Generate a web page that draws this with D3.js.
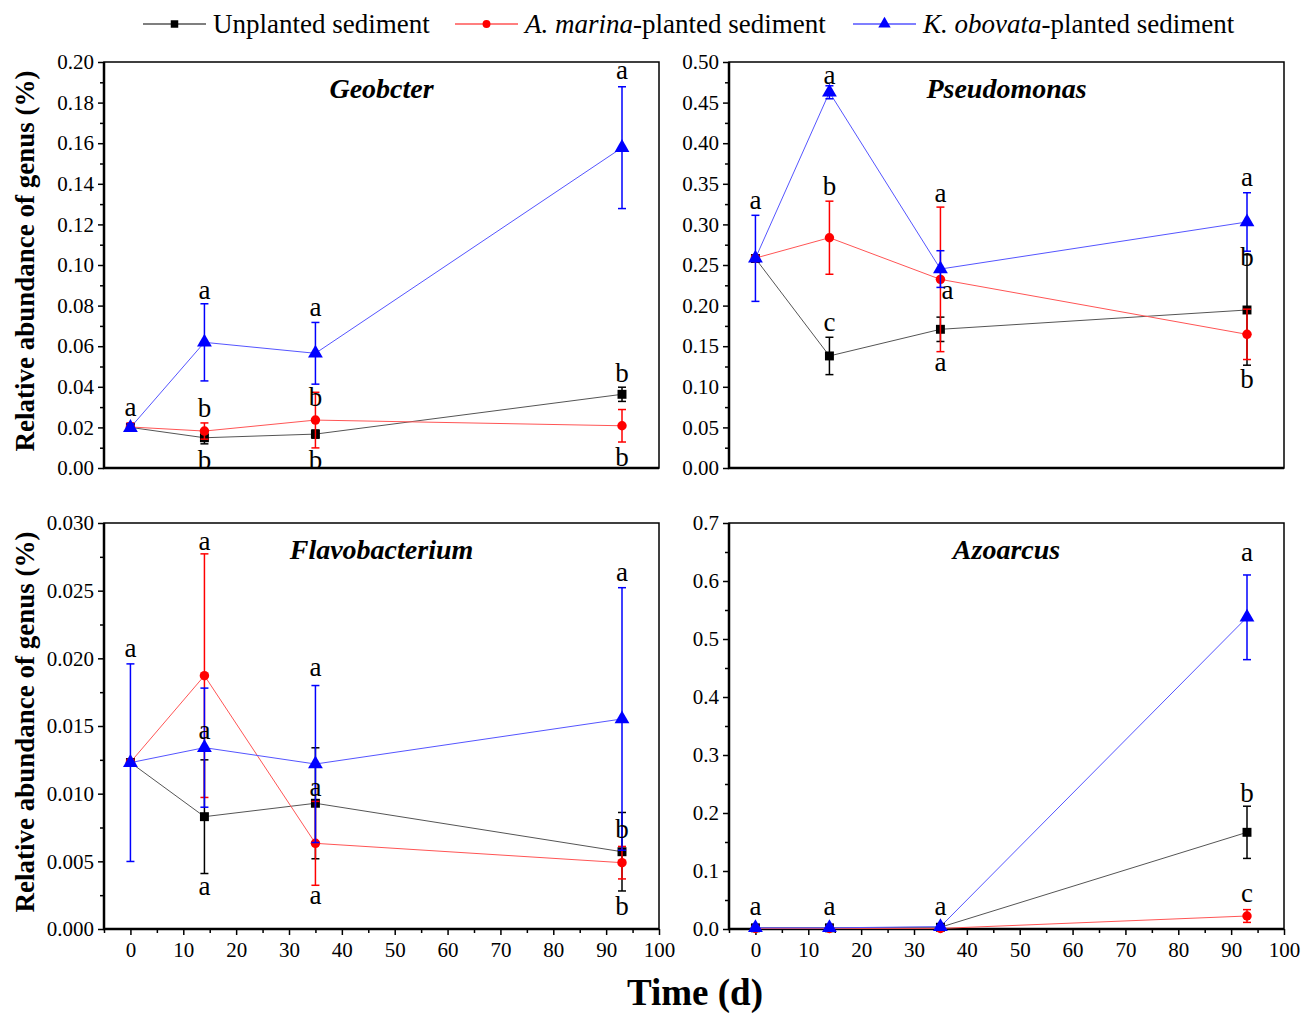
<!DOCTYPE html>
<html>
<head>
<meta charset="utf-8">
<script src="https://cdn.jsdelivr.net/npm/d3@7"></script>
<style>
  body { margin: 0; background: #fff; }
  text { font-family: "Liberation Serif", "Times New Roman", serif; fill: #000; }
</style>
</head>
<body>
<svg id="chart"></svg>
<script>
// sampling days
const days = [0, 14, 35, 93];

const seriesNames = ['Unplanted sediment', 'A. marina-planted sediment', 'K. obovata-planted sediment'];
const markColors = ['#000000', '#ff0000', '#0000ff'];
const lineColors = ['#555555', '#ff5555', '#5555ff'];

// rows: unplanted, A. marina, K. obovata
const geobcterMeans = [
  [0.0200, 0.0149, 0.0167, 0.0363],
  [0.0202, 0.0182, 0.0236, 0.0208],
  [0.0199, 0.0619, 0.0565, 0.1578]
];
const geobcterErrors = [
  [0.0015, 0.0030, 0.0020, 0.0035],
  [0.0020, 0.0040, 0.0137, 0.0080],
  [0.0018, 0.0190, 0.0152, 0.0300]
];
// [day index, letter, y value, x shift]
const geobcterLetters = [
  [0, 'a', 0.0286], [1, 'a', 0.0864], [1, 'b', 0.0296], [1, 'b', 0.0039],
  [2, 'a', 0.0779], [2, 'b', 0.0352], [2, 'b', 0.0039],
  [3, 'a', 0.1946], [3, 'b', 0.0468], [3, 'b', 0.0056]
];

const pseudoMeans = [
  [0.2580, 0.1380, 0.1708, 0.1946],
  [0.2585, 0.2836, 0.2323, 0.1646],
  [0.2582, 0.4627, 0.2450, 0.3030]
];
const pseudoErrors = [
  [0.0030, 0.0230, 0.0150, 0.0680],
  [0.0030, 0.0450, 0.0890, 0.0310],
  [0.0530, 0.0080, 0.0226, 0.0360]
];
const pseudoLetters = [
  [0, 'a', 0.326], [1, 'a', 0.481], [1, 'b', 0.347], [1, 'c', 0.176],
  [2, 'a', 0.335], [2, 'a', 0.216, 7], [2, 'a', 0.127],
  [3, 'a', 0.355], [3, 'b', 0.260], [3, 'b', 0.110]
];

const flavoMeans = [
  [0.01230, 0.00830, 0.00929, 0.00571],
  [0.01232, 0.01872, 0.00633, 0.00490],
  [0.01229, 0.01340, 0.01219, 0.01552]
];
const flavoErrors = [
  [0.0002, 0.0042, 0.0041, 0.0029],
  [0.0002, 0.0090, 0.0031, 0.0012],
  [0.0073, 0.0044, 0.0058, 0.0097]
];
const flavoLetters = [
  [0, 'a', 0.02056], [1, 'a', 0.02843], [1, 'a', 0.0145], [1, 'a', 0.0030],
  [2, 'a', 0.01914], [2, 'a', 0.01027], [2, 'a', 0.00227],
  [3, 'a', 0.02618], [3, 'b', 0.00739], [3, 'b', 0.0017]
];

const azoMeans = [
  [0.002, 0.002, 0.003, 0.1667],
  [0.001, 0.001, 0.001, 0.0224],
  [0.002, 0.002, 0.004, 0.5374]
];
const azoErrors = [
  [0.001, 0.001, 0.001, 0.045],
  [0.001, 0.001, 0.001, 0.011],
  [0.001, 0.001, 0.002, 0.073]
];
const azoLetters = [
  [0, 'a', 0.034], [1, 'a', 0.034], [2, 'a', 0.034],
  [3, 'a', 0.6453], [3, 'b', 0.234], [3, 'c', 0.057]
];

const xTicks = d3.range(0, 101, 10);

const panels = [
  { title: 'Geobcter', means: geobcterMeans, errors: geobcterErrors, letters: geobcterLetters,
    yMax: 0.20, yStep: 0.02, fmt: '.2f', left: 104, top: 62, xAxis: false, yLabel: true },
  { title: 'Pseudomonas', means: pseudoMeans, errors: pseudoErrors, letters: pseudoLetters,
    yMax: 0.50, yStep: 0.05, fmt: '.2f', left: 729, top: 62, xAxis: false, yLabel: false },
  { title: 'Flavobacterium', means: flavoMeans, errors: flavoErrors, letters: flavoLetters,
    yMax: 0.030, yStep: 0.005, fmt: '.3f', left: 104, top: 523, xAxis: true, yLabel: true },
  { title: 'Azoarcus', means: azoMeans, errors: azoErrors, letters: azoLetters,
    yMax: 0.7, yStep: 0.1, fmt: '.1f', left: 729, top: 523, xAxis: true, yLabel: false }
];

const width = 1301;
const height = 1013;
const pw = 555;
const ph = 406;

const svg = d3.select('#chart')
  .attr('width', width)
  .attr('height', height);

const symbols = [d3.symbolSquare, d3.symbolCircle, d3.symbolTriangle];
const symbolSizes = [80, 70, 95];

panels.forEach(p => {
  const g = svg.append('g')
    .attr('transform', 'translate(' + p.left + ',' + p.top + ')');

  const x = d3.scaleLinear().domain([-5, 100]).range([0, pw]);
  const y = d3.scaleLinear().domain([0, p.yMax]).range([ph, 0]);

  // y axis: major + minor ticks
  const yMajor = d3.range(0, p.yMax + p.yStep / 2, p.yStep);
  const yMinor = d3.range(p.yStep / 2, p.yMax, p.yStep);
  g.append('g')
    .call(d3.axisLeft(y).tickValues(yMinor).tickSize(4).tickFormat(''))
    .call(a => a.select('.domain').remove())
    .selectAll('line').attr('stroke-width', 1.5);
  const ya = g.append('g')
    .call(d3.axisLeft(y).tickValues(yMajor).tickSize(6).tickPadding(4).tickFormat(d3.format(p.fmt)));
  ya.select('.domain').remove();
  ya.selectAll('line').attr('stroke-width', 1.5);
  ya.selectAll('text')
    .style('font-size', '21px')
    .style('font-family', '"Liberation Serif", serif');

  if (p.xAxis) {
    const xMinor = d3.range(-5, 101, 10);
    g.append('g')
      .attr('transform', 'translate(0,' + ph + ')')
      .call(d3.axisBottom(x).tickValues(xMinor).tickSize(4).tickFormat(''))
      .call(a => a.select('.domain').remove())
      .selectAll('line').attr('stroke-width', 1.5);
    const xa = g.append('g')
      .attr('transform', 'translate(0,' + ph + ')')
      .call(d3.axisBottom(x).tickValues(xTicks).tickSize(6).tickPadding(7));
    xa.select('.domain').remove();
    xa.selectAll('line').attr('stroke-width', 1.5);
    xa.selectAll('text')
      .style('font-size', '21px')
      .style('font-family', '"Liberation Serif", serif');
  }

  // frame
  g.append('rect')
    .attr('width', pw).attr('height', ph)
    .attr('fill', 'none').attr('stroke', '#000').attr('stroke-width', 1.5);
  g.append('path')
    .attr('d', 'M0,0V' + ph + 'H' + pw)
    .attr('fill', 'none').attr('stroke', '#000').attr('stroke-width', 2.5);

  // lines
  const line = d3.line().x((d, i) => x(days[i])).y(d => y(d));
  p.means.forEach((m, s) => {
    g.append('path')
      .datum(m)
      .attr('d', line)
      .attr('fill', 'none')
      .attr('stroke', lineColors[s])
      .attr('stroke-width', 1);
  });

  // error bars + markers
  p.means.forEach((m, s) => {
    const eb = g.append('g');
    m.forEach((v, i) => {
      const e = p.errors[s][i];
      const cx = x(days[i]);
      const y0 = y(v + e), y1 = y(v - e);
      eb.append('line')
        .attr('x1', cx).attr('x2', cx).attr('y1', y0).attr('y2', y1)
        .attr('stroke', markColors[s]).attr('stroke-width', 1.5);
      [y0, y1].forEach(yy => {
        eb.append('line')
          .attr('x1', cx - 4).attr('x2', cx + 4).attr('y1', yy).attr('y2', yy)
          .attr('stroke', markColors[s]).attr('stroke-width', 1.5);
      });
    });
    g.append('g').selectAll('path')
      .data(m)
      .enter().append('path')
      .attr('transform', (d, i) => 'translate(' + x(days[i]) + ',' + y(d) + ')')
      .attr('d', d3.symbol().type(symbols[s]).size(symbolSizes[s]))
      .attr('fill', markColors[s]);
  });

  // significance letters
  g.selectAll('.letter')
    .data(p.letters)
    .enter().append('text')
    .attr('class', 'letter')
    .attr('x', d => x(days[d[0]]) + (d[3] || 0))
    .attr('y', d => y(d[2]))
    .attr('dy', d => d[1] === 'b' ? '0.34em' : '0.23em')
    .attr('text-anchor', 'middle')
    .style('font-size', '27px')
    .text(d => d[1]);

  // title
  g.append('text')
    .attr('x', pw / 2)
    .attr('y', 36)
    .attr('text-anchor', 'middle')
    .style('font-size', '28px')
    .style('font-weight', 'bold')
    .style('font-style', 'italic')
    .text(p.title);

  if (p.yLabel) {
    g.append('text')
      .attr('transform', 'translate(' + (-p.left + 34) + ',' + (ph / 2 - 4) + ') rotate(-90)')
      .attr('text-anchor', 'middle')
      .style('font-size', '27px')
      .style('font-weight', 'bold')
      .text('Relative abundance of genus (%)');
  }
});

svg.append('text')
  .attr('x', 695)
  .attr('y', 1005)
  .attr('text-anchor', 'middle')
  .style('font-size', '37px')
  .style('font-weight', 'bold')
  .text('Time (d)');

// legend
const legendX = [143, 455, 853];
const leg = svg.append('g');
seriesNames.forEach((name, s) => {
  const lg = leg.append('g').attr('transform', 'translate(' + legendX[s] + ',24)');
  lg.append('line')
    .attr('x1', 0).attr('x2', 63)
    .attr('stroke', markColors[s]).attr('stroke-width', 1.2);
  lg.append('path')
    .attr('transform', 'translate(31.5,0)')
    .attr('d', d3.symbol().type(symbols[s]).size(symbolSizes[s] * 0.7))
    .attr('fill', markColors[s]);
  const t = lg.append('text')
    .attr('x', 70)
    .attr('y', 9)
    .style('font-size', '27px');
  if (s === 0) {
    t.text(name);
  } else {
    const parts = name.split('-');
    t.append('tspan').style('font-style', 'italic').text(parts[0]);
    t.append('tspan').text('-' + parts.slice(1).join('-'));
  }
});
</script>
</body>
</html>
